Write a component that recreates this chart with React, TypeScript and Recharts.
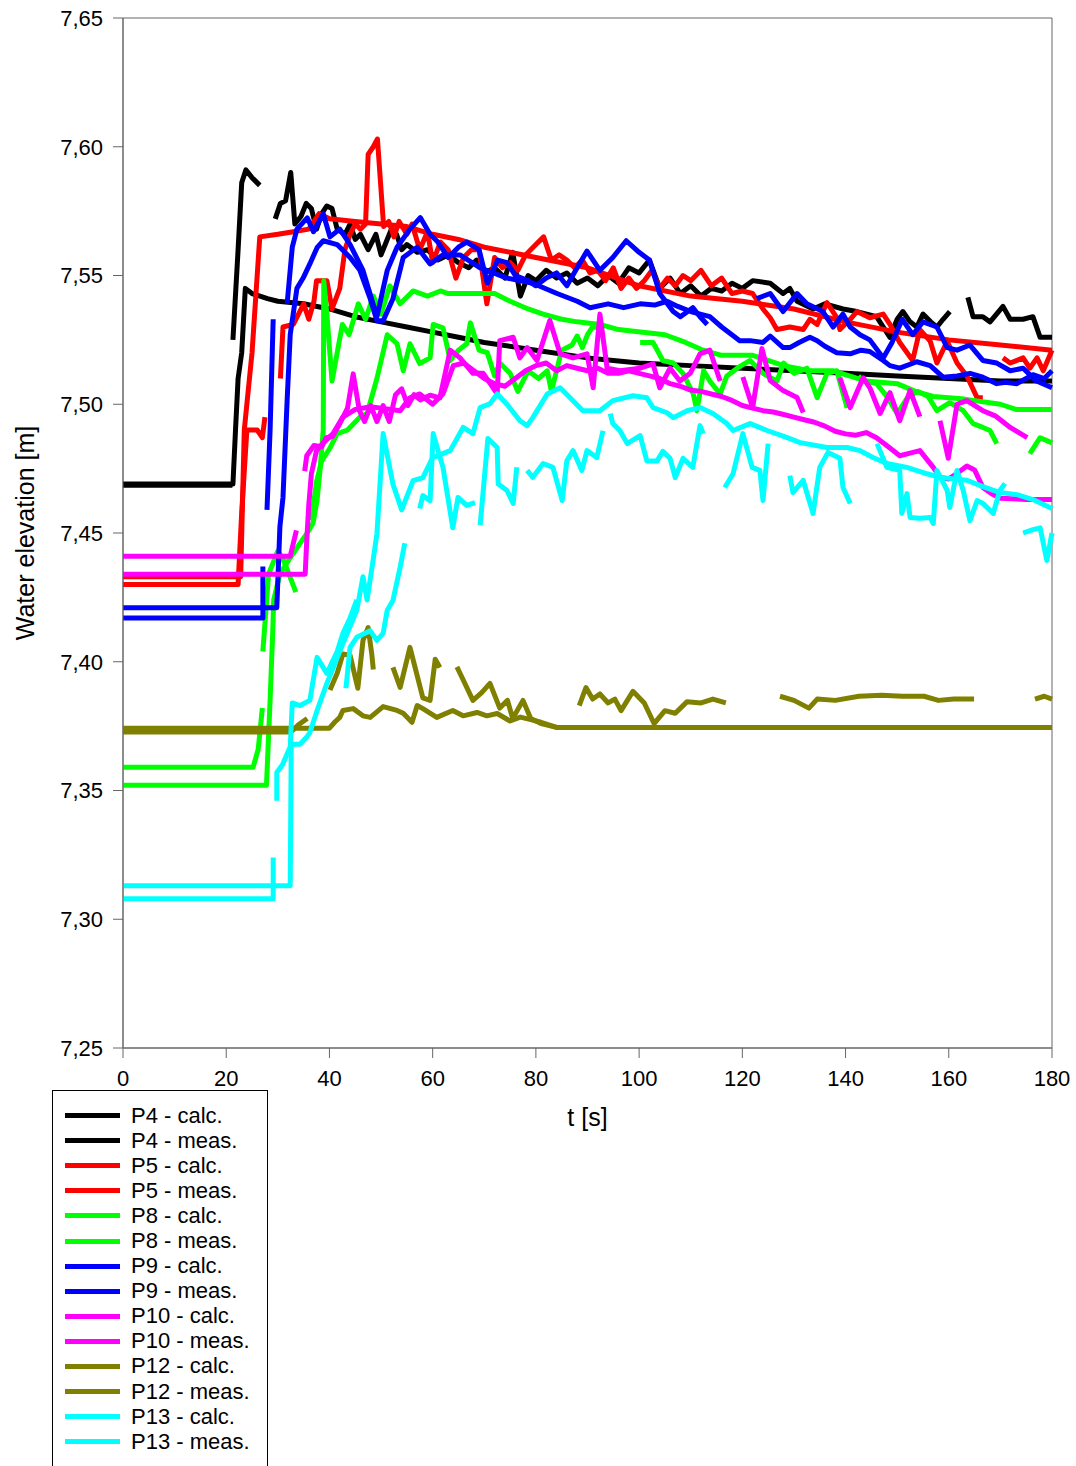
import React from "react";
import { LineChart, Line, XAxis, YAxis, Legend, ReferenceArea } from "recharts";

// each series: [t (s), water elevation (m)]; null value = gap in the record
type Pt = [number, number | null];

const xTicks = [0, 20, 40, 60, 80, 100, 120, 140, 160, 180];
const yTicks = [7.25, 7.3, 7.35, 7.4, 7.45, 7.5, 7.55, 7.6, 7.65];

const p4Calc: Pt[] = [[0,7.469],[21.3,7.469],[21.8,7.49],[22.3,7.51],[23,7.52],[23.7,7.545],[25,7.543],[28,7.541],[30,7.54],[35,7.539],[40,7.537],[45,7.534],[50,7.532],[55,7.53],[60,7.528],[65,7.526],[70,7.524],[80,7.521],[90,7.518],[100,7.516],[110,7.515],[120,7.514],[130,7.513],[140,7.512],[150,7.511],[160,7.51],[170,7.509],[180,7.509]];

const p4Meas: Pt[] = [[0,7.4685],[21.2,7.4685],[21.25,null],[21.3,7.525],[22.3,7.56],[23,7.586],[23.8,7.591],[25,7.588],[26.5,7.585],[28,null],[29.5,7.572],[30.5,7.578],[31.5,7.579],[32.5,7.59],[33.3,7.57],[34.5,7.573],[35.5,7.578],[36.5,7.576],[37.5,7.568],[38.5,7.574],[39.5,7.577],[40.5,7.576],[41.5,7.568],[43,7.566],[44,7.57],[45,7.564],[46,7.566],[47.5,7.56],[49,7.566],[50,7.558],[51,7.563],[52,7.568],[53,7.566],[54,7.56],[55,7.562],[57,7.559],[59,7.56],[61,7.556],[63,7.558],[65,7.555],[67,7.553],[68.5,7.556],[70,7.551],[72,7.553],[74,7.549],[75.5,7.559],[77,7.542],[78.5,7.55],[80,7.548],[82,7.552],[84,7.549],[86,7.551],[88,7.547],[90,7.549],[92,7.546],[94,7.55],[96,7.547],[98,7.553],[100,7.551],[102,7.556],[104,7.545],[106,7.549],[108,7.543],[110,7.546],[112,7.542],[114,7.545],[116,7.544],[118,7.547],[120,7.545],[122,7.548],[125.4,7.547],[127.9,7.543],[129.2,7.545],[130.6,7.54],[133.7,7.537],[136,7.539],[139.5,7.537],[142.2,7.536],[146,7.534],[148.6,7.526],[150,7.533],[151.1,7.536],[152.5,7.532],[153.8,7.53],[155,7.535],[156.5,7.532],[157.7,7.53],[158.9,7.533],[160.2,7.536],[162,null],[163.7,7.5415],[164.7,7.534],[166.6,7.534],[168,7.532],[170.5,7.538],[171.9,7.533],[174.4,7.533],[176.3,7.534],[177.7,7.526],[180,7.526]];

const p5Calc: Pt[] = [[0,7.433],[22.8,7.433],[23.5,7.49],[25,7.52],[26.5,7.565],[30,7.566],[33,7.567],[36,7.568],[38,7.574],[40,7.572],[45,7.571],[50,7.57],[55,7.569],[60,7.566],[65,7.564],[70,7.561],[80,7.557],[90,7.553],[100,7.546],[110,7.542],[120,7.54],[130,7.537],[140,7.532],[150,7.528],[160,7.525],[170,7.523],[180,7.521]];

const p5Meas: Pt[] = [[0,7.43],[22.3,7.43],[23,7.458],[24,7.49],[26,7.49],[27,7.487],[27.5,7.495],[28.5,null],[30.5,7.51],[31,7.53],[33,7.531],[34,7.535],[35,7.539],[36,7.533],[37,7.54],[37.5,7.548],[39.5,7.548],[40.5,7.537],[42,7.545],[43,7.56],[44,7.566],[45,7.57],[46,7.568],[47,7.57],[47.5,7.597],[48.5,7.6],[49.3,7.603],[50.5,7.569],[51.5,7.571],[52.5,7.565],[53.5,7.571],[55,7.566],[56,7.57],[57.5,7.56],[59,7.567],[60,7.555],[61.5,7.563],[63,7.56],[64.5,7.549],[66,7.557],[67.5,7.56],[69,7.56],[70.5,7.539],[72,7.557],[73.5,7.553],[75,7.555],[76.5,7.552],[78,7.558],[80,7.562],[81.5,7.565],[83,7.556],[84.5,7.558],[86,7.556],[87.5,7.553],[89,7.556],[90.5,7.551],[92,7.552],[93.5,7.548],[95,7.553],[96.5,7.545],[98,7.549],[99.5,7.545],[101,7.548],[102.5,7.552],[104,7.545],[105.5,7.549],[107,7.546],[108.5,7.55],[110,7.548],[112,7.552],[114,7.546],[116,7.549],[118,7.543],[120,7.544],[122,7.543],[124,7.537],[125.4,7.5336],[126.7,7.529],[129.2,7.53],[131.8,7.529],[133.1,7.533],[134.5,7.531],[136.4,7.5395],[138.3,7.5336],[138.9,7.529],[140.9,7.533],[142.2,7.536],[144.7,7.5336],[147.3,7.535],[148.6,7.531],[150.5,7.524],[153,7.517],[154.4,7.529],[156.4,7.5245],[157.7,7.516],[159.7,7.5245],[161.6,7.516],[163.5,7.511],[165.5,7.5025],[166.6,7.5025],[168.5,null],[170.5,7.518],[171.9,7.516],[174.4,7.518],[175.7,7.514],[177.1,7.518],[178.3,7.513],[180,7.521]];

const p8Calc: Pt[] = [[0,7.352],[27.8,7.352],[28.5,7.385],[29,7.411],[29.2,7.424],[30.4,7.434],[32.4,7.4404],[34.3,7.446],[35.7,7.45],[36.8,7.4537],[37.6,7.4626],[38.2,7.475],[38.8,7.49],[38.9,7.548],[39.5,7.535],[40.5,7.509],[42.5,7.531],[43.8,7.527],[45.6,7.539],[47,7.533],[48.5,7.542],[50,7.535],[51.7,7.546],[53.7,7.539],[56.2,7.544],[59,7.542],[61.5,7.544],[63,7.543],[65.3,7.543],[72,7.543],[75,7.54],[78.5,7.537],[81.4,7.535],[85,7.533],[88,7.532],[92.4,7.531],[96,7.529],[100.7,7.528],[105,7.527],[109,7.524],[112.4,7.521],[116,7.519],[122,7.519],[128,7.515],[133,7.513],[137.6,7.513],[144,7.509],[150,7.508],[153.5,7.505],[157,7.503],[163,7.502],[170,7.5],[173,7.498],[180,7.498]];

const p8Meas: Pt[] = [[0,7.359],[25.2,7.359],[26.2,7.366],[27,7.382],[27.05,null],[27.1,7.404],[27.8,7.423],[28.2,7.434],[30,7.443],[31,7.44],[33.5,7.427],[35,null],[36.5,7.455],[37.5,7.47],[38.5,7.478],[40.1,7.483],[41.5,7.4886],[43.5,7.49],[45.9,7.495],[47.3,7.4964],[49.2,7.51],[51.2,7.527],[53.1,7.5235],[54.3,7.513],[55.6,7.5235],[57.5,7.5158],[59.5,7.518],[60.1,7.531],[62,7.5297],[63.4,7.517],[65,7.521],[66.6,7.5235],[67.3,7.5316],[69,7.521],[70.6,7.52],[72,7.511],[73,7.516],[75,7.512],[76.5,7.505],[78.5,7.513],[80.5,7.51],[82.2,7.513],[83,7.505],[85,7.521],[87,7.523],[88,7.5265],[89,7.522],[90,7.527],[91,7.53],[92.4,7.5298],[96,null],[100.2,7.524],[102.7,7.524],[104.6,7.517],[106.6,7.516],[108.5,7.512],[110.5,7.504],[111.2,7.4975],[112.5,7.513],[113.7,7.509],[115.7,7.504],[117,7.511],[119,7.514],[121.5,7.517],[124,7.512],[126.7,7.509],[128,7.516],[130,7.512],[132.5,7.514],[134.5,7.5026],[136.4,7.512],[138.3,7.513],[140.3,7.4986],[141.5,null],[142.5,7.511],[143.4,7.509],[146,7.508],[148,7.503],[150,7.4964],[152,7.5026],[154,7.505],[156,7.503],[157.7,7.4975],[160.2,7.5006],[162.8,7.4975],[164.7,7.4925],[166.6,7.491],[168,7.4898],[169.3,7.4847],[172,null],[175.7,7.4808],[177.7,7.487],[180,7.485]];

const p9Calc: Pt[] = [[0,7.421],[29.5,7.421],[29.8,7.421],[30.4,7.4524],[31,7.4638],[31.8,7.5014],[32.4,7.527],[33.7,7.545],[34.9,7.549],[36.2,7.5545],[37.6,7.5608],[38.8,7.5635],[41.5,7.562],[44,7.557],[45.9,7.552],[47.9,7.541],[49.2,7.5324],[50.4,7.5324],[52.3,7.541],[54.3,7.557],[57,7.561],[59.5,7.5545],[62,7.558],[65.3,7.558],[69.2,7.553],[74.4,7.549],[79.4,7.547],[84.1,7.543],[88,7.54],[90.5,7.5375],[94,7.539],[97,7.5375],[100.2,7.539],[103,7.5385],[105.4,7.54],[107.5,7.538],[110,7.536],[113.7,7.534],[116,7.53],[119.5,7.5247],[121.5,7.5247],[124,7.524],[125.4,7.5265],[127.9,7.522],[129.2,7.522],[131,7.524],[133.1,7.526],[134.5,7.5247],[136,7.5225],[138.3,7.52],[140.9,7.5196],[143,7.521],[144.7,7.5205],[147.3,7.517],[148.6,7.515],[150.5,7.514],[153.8,7.5165],[156.4,7.515],[158.9,7.5105],[161.6,7.511],[164.1,7.512],[166.6,7.5105],[169.3,7.508],[171,7.5085],[173.2,7.508],[176.3,7.5115],[178.5,7.51],[180,7.513]];

const p9Meas: Pt[] = [[0,7.417],[27.1,7.417],[27.1,7.437],[27.5,null],[27.9,7.459],[28.5,7.49],[29.1,7.533],[30,null],[31.8,7.539],[32.8,7.561],[33.7,7.568],[35.7,7.5724],[36.9,7.567],[38.8,7.574],[40.1,7.565],[42,7.568],[44,7.562],[46.5,7.552],[49.2,7.534],[51.2,7.552],[53.1,7.561],[55.6,7.568],[57.6,7.5725],[59.5,7.566],[61,7.563],[63,7.557],[65,7.561],[66.6,7.563],[69,7.56],[70.6,7.547],[72.6,7.556],[74.4,7.555],[76,7.55],[78.5,7.548],[80,7.546],[82,7.549],[84,7.551],[86,7.546],[88,7.553],[89.9,7.5595],[92.4,7.552],[94.9,7.557],[97.5,7.5635],[100,7.559],[102,7.556],[104,7.543],[106.6,7.536],[108,7.534],[110.4,7.5375],[111.8,7.534],[113.2,7.531],[118,null],[122.8,7.541],[125.4,7.543],[127.9,7.536],[130.6,7.543],[132.5,7.539],[135.6,7.536],[137.6,7.53],[139.5,7.535],[140.9,7.53],[142.8,7.527],[144.7,7.525],[147.3,7.518],[149,7.524],[151,7.533],[153,7.527],[155,7.532],[157.7,7.53],[159.7,7.522],[161.6,7.521],[164.1,7.523],[166.6,7.517],[169.3,7.516],[171.9,7.513],[174.4,7.514],[177,7.509],[180,7.5064]];

const p10Calc: Pt[] = [[0,7.434],[35.3,7.434],[35.6,7.447],[36,7.461],[36.5,7.473],[37.5,7.482],[38.8,7.485],[40.7,7.4886],[42.6,7.495],[45,7.498],[48,7.499],[50,7.4985],[53.7,7.4975],[55.6,7.5025],[57.5,7.504],[60,7.5],[62,7.504],[64,7.515],[66,7.516],[68,7.513],[70,7.51],[72,7.508],[74,7.507],[76,7.51],[78,7.513],[80,7.515],[82,7.516],[84,7.513],[86,7.515],[88,7.514],[90,7.513],[92,7.514],[94,7.512],[96,7.512],[98,7.513],[100,7.512],[102,7.511],[104,7.51],[106,7.508],[108,7.507],[110,7.5055],[112,7.505],[114,7.504],[116,7.503],[118,7.5015],[120,7.4995],[122,7.4985],[124,7.4975],[126,7.497],[128,7.496],[130,7.495],[132,7.494],[134,7.493],[136,7.4915],[138,7.4895],[140,7.4885],[142,7.488],[144,7.489],[146,7.487],[148.6,7.483],[150.5,7.48],[152.5,7.481],[154.4,7.482],[157,7.4755],[158.3,7.4716],[160,7.471],[161.5,7.473],[163.5,7.476],[165,7.4745],[166.6,7.4677],[168.5,7.465],[170,7.4635],[175,7.463],[180,7.463]];

const p10Meas: Pt[] = [[0,7.441],[32.4,7.441],[33,7.446],[33.6,7.451],[34.5,null],[35.2,7.474],[35.6,7.48],[37,7.484],[38.5,7.4835],[39.4,7.487],[40.6,7.4875],[41.8,7.4917],[43.5,7.4985],[44.6,7.5118],[45.8,7.4975],[46.8,7.4933],[48,7.4995],[49.2,7.4933],[50.4,7.4995],[51.6,7.4933],[52.8,7.5037],[54,7.506],[55.2,7.4995],[56.4,7.5037],[57.6,7.5017],[59.5,7.5035],[61.4,7.5025],[63.4,7.521],[65.3,7.518],[67.8,7.512],[69.8,7.512],[72.5,7.504],[73,7.5247],[75.6,7.526],[76.9,7.518],[78.3,7.522],[80.2,7.517],[82.7,7.5325],[84.7,7.5196],[87.2,7.518],[89.9,7.5196],[91.1,7.5064],[92.4,7.535],[93.8,7.514],[96.3,7.513],[100.2,7.514],[102.7,7.5157],[104,7.5064],[106,7.514],[107.9,7.509],[109.9,7.512],[111.8,7.5196],[113.7,7.521],[115.7,7.509],[118,null],[120.1,7.5106],[122,7.4987],[123.8,7.5216],[125.4,7.5092],[127.9,7.5053],[130.6,7.5026],[131.8,7.4968],[135,null],[138.9,7.5103],[140.9,7.4987],[143.4,7.5103],[144.7,7.5064],[146.7,7.4964],[148.6,7.5045],[150.5,7.4936],[152.5,7.5053],[154.4,7.4952],[156,null],[158.3,7.4936],[159.9,7.479],[161.6,7.5],[163.5,7.5014],[166.6,7.4975],[169,7.4955],[171.9,7.491],[175.2,7.487]];

const p12Calc: Pt[] = [[0,7.3742],[40,7.3742],[41,7.3765],[42,7.3784],[42.6,7.3811],[44.6,7.3818],[46.5,7.379],[47.9,7.3784],[50.4,7.3826],[53.1,7.3811],[54.3,7.38],[56,7.3765],[57,7.383],[58.1,7.3818],[60.8,7.3784],[63.9,7.3811],[65.9,7.379],[68.6,7.3803],[70.5,7.379],[72.5,7.3799],[75,7.377],[77,7.3785],[79,7.3775],[81,7.3765],[84,7.3745],[180,7.3745]];

const p12Meas: Pt[] = [[0,7.3727],[32.5,7.3727],[34,7.3755],[35.7,7.378],[37,null],[40.1,7.389],[41.5,7.3955],[42.6,7.403],[44,7.4025],[45.5,7.3897],[46.5,7.4083],[47.5,7.4133],[48.2,7.403],[48.5,7.397],[50,null],[52.3,7.3978],[53.7,7.39],[55.6,7.4056],[58.1,7.386],[59.5,7.385],[60.5,7.401],[61.4,7.3978],[63,null],[64.7,7.398],[65.9,7.393],[67.8,7.385],[69.5,7.388],[71.1,7.3916],[73,7.382],[74.5,7.385],[75.5,7.378],[77.5,7.385],[79,7.378],[81,7.376],[84,7.3745],[86,null],[88.4,7.383],[89.7,7.39],[91,7.3855],[92.4,7.3875],[94,7.384],[95.3,7.3855],[96.5,7.381],[98.8,7.3885],[101,7.384],[102.9,7.376],[105,7.381],[107,7.38],[109.3,7.3845],[112,7.384],[114.3,7.3855],[116.8,7.384],[120,null],[127.3,7.3866],[130,7.385],[132.9,7.382],[134.5,7.3855],[138,7.385],[142.6,7.3866],[147,7.387],[151,7.3866],[155.2,7.3866],[158,7.385],[161,7.3855],[164.9,7.3855],[170,null],[176.7,7.3855],[178.5,7.3866],[180,7.3855]];

const p13Calc: Pt[] = [[0,7.313],[32.4,7.313],[32.6,7.368],[34.3,7.368],[35.7,7.371],[36.2,7.3725],[37.6,7.381],[39.5,7.3916],[42.6,7.407],[45.3,7.42],[46.5,7.433],[47.3,7.424],[48.5,7.44],[49.2,7.4497],[50.4,7.4886],[52.3,7.469],[54,7.459],[56.2,7.4703],[58.1,7.4715],[60,7.4793],[63.4,7.482],[65.9,7.491],[67.8,7.4886],[69.2,7.4987],[71.1,7.5002],[72.5,7.504],[74.4,7.5],[76.9,7.4936],[78.3,7.4917],[79.4,7.4948],[82.2,7.504],[84.7,7.5064],[87.2,7.5014],[89.1,7.4975],[92.4,7.4975],[94.9,7.5014],[98.8,7.5033],[101.5,7.5025],[102.7,7.4987],[105.4,7.4967],[106.6,7.4948],[109.3,7.4975],[111.8,7.4987],[114.3,7.4964],[117,7.4925],[118.2,7.4898],[121.5,7.4925],[124.8,7.4898],[128.7,7.487],[131.2,7.4851],[136.4,7.4832],[140.3,7.4832],[142.8,7.482],[145.3,7.4793],[148,7.477],[151.9,7.4755],[155.8,7.473],[158.3,7.4716],[163.5,7.4705],[166.6,7.468],[169.9,7.4657],[173.2,7.4649],[176.3,7.463],[180,7.4595]];

const p13Meas: Pt[] = [[0,7.308],[29.1,7.308],[29.1,7.324],[29.5,null],[29.8,7.346],[29.8,7.357],[30.9,7.36],[32.4,7.367],[32.8,7.384],[34.3,7.383],[36.2,7.385],[37.6,7.4017],[39.5,7.3955],[41.5,7.404],[42.6,7.411],[44,7.417],[45.3,7.424],[45.5,null],[43.2,7.3897],[44,7.4056],[45.3,7.4095],[47.9,7.412],[49.2,7.4083],[50.4,7.411],[51.2,7.42],[52.3,7.4238],[53.7,7.4367],[54.6,7.446],[56,null],[57.5,7.4595],[58.1,7.4645],[59.5,7.4626],[60.1,7.4886],[62,7.4755],[63.9,7.452],[64.9,7.4638],[66.6,7.4607],[68.2,7.4618],[68.7,null],[69.2,7.453],[70.7,7.4867],[72.5,7.4832],[72.7,7.469],[74.4,7.4665],[75.6,7.4615],[76.3,7.4755],[77,null],[78.3,7.4743],[79.4,7.4716],[81.4,7.477],[83.3,7.4755],[85.1,7.4626],[86,7.478],[87.2,7.482],[88.9,7.4743],[89.9,7.482],[91.8,7.4793],[93,7.4897],[93.7,null],[94.4,7.4964],[94.9,7.4925],[96.3,7.4897],[97.7,7.4847],[100.2,7.4878],[101.5,7.478],[103.5,7.478],[104.6,7.4817],[106,7.479],[107,7.4715],[108.5,7.479],[110.4,7.4755],[111.8,7.4917],[112.4,7.4886],[114,null],[116.6,7.4677],[118.2,7.473],[120.1,7.4886],[121.9,7.4755],[123.4,7.4743],[124,7.4626],[125,7.4847],[127,null],[129.2,7.4723],[129.8,7.4657],[131.8,7.4704],[133.7,7.4576],[135,7.4755],[136.6,7.4813],[138.9,7.479],[139.5,7.4677],[140.9,7.4615],[143,null],[146.1,7.4847],[148,7.4755],[150.5,7.4743],[150.9,7.4576],[151.9,7.4653],[152.5,7.456],[154.4,7.4557],[156.4,7.456],[157,7.4537],[157.7,7.4743],[159.7,7.4665],[160.2,7.4599],[161.6,7.4743],[162.8,7.4665],[164.1,7.4548],[165.5,7.4626],[166.6,7.4615],[168.6,7.4576],[169.9,7.4665],[170.9,7.4692],[172,null],[174.4,7.45],[176.3,7.4513],[177.7,7.452],[179,7.4393],[180,7.45]];

const series = [
  { name: "P4 - calc.", color: "#000000", pts: p4Calc },
  { name: "P4 - meas.", color: "#000000", pts: p4Meas },
  { name: "P5 - calc.", color: "#FF0000", pts: p5Calc },
  { name: "P5 - meas.", color: "#FF0000", pts: p5Meas },
  { name: "P8 - calc.", color: "#00FF00", pts: p8Calc },
  { name: "P8 - meas.", color: "#00FF00", pts: p8Meas },
  { name: "P9 - calc.", color: "#0000FF", pts: p9Calc },
  { name: "P9 - meas.", color: "#0000FF", pts: p9Meas },
  { name: "P10 - calc.", color: "#FF00FF", pts: p10Calc },
  { name: "P10 - meas.", color: "#FF00FF", pts: p10Meas },
  { name: "P12 - calc.", color: "#808000", pts: p12Calc },
  { name: "P12 - meas.", color: "#808000", pts: p12Meas },
  { name: "P13 - calc.", color: "#00FFFF", pts: p13Calc },
  { name: "P13 - meas.", color: "#00FFFF", pts: p13Meas },
];

const FONT = '"Liberation Sans", Arial, sans-serif';
const AXIS = "#666666";

const toRows = (pts: Pt[]) => pts.map(([t, v]) => ({ t, v }));

// comma as decimal separator, like the original
const fmtY = (v: number) => v.toFixed(2).replace(".", ",");

function LegendBox() {
  return (
    <div
      style={{
        border: "1px solid #000",
        background: "#fff",
        width: 216,
        height: 400,
        paddingTop: 12,
        boxSizing: "border-box",
        fontFamily: FONT,
        fontSize: 22,
      }}
    >
      {series.map((s) => (
        <div key={s.name} style={{ display: "flex", alignItems: "center", height: 25.1 }}>
          <div style={{ marginLeft: 12, width: 55, height: 5, background: s.color }} />
          <span style={{ marginLeft: 11, color: "#000", whiteSpace: "nowrap" }}>{s.name}</span>
        </div>
      ))}
    </div>
  );
}

export default function App() {
  return (
    <div style={{ position: "relative", width: 1076, height: 1466 }}>
      <style>{"body{margin:0;overflow:hidden}"}</style>
      <LineChart width={1076} height={1466} margin={{ top: 18, right: 24, bottom: 0, left: 8 }}>
        <ReferenceArea x1={0} x2={180} y1={7.25} y2={7.65} fill="none" stroke={AXIS} strokeWidth={1} />
        <XAxis
          dataKey="t"
          type="number"
          domain={[0, 180]}
          ticks={xTicks}
          interval={0}
          height={418}
          tickSize={10}
          tickMargin={12}
          stroke={AXIS}
          tick={{ fill: "#000", fontSize: 22, fontFamily: FONT }}
          label={({ viewBox }: any) => (
            <text
              x={viewBox.x + viewBox.width / 2}
              y={viewBox.y + 78}
              textAnchor="middle"
              fontSize={25}
              fontFamily={FONT}
              fill="#000"
            >
              t [s]
            </text>
          )}
        />
        <YAxis
          type="number"
          domain={[7.25, 7.65]}
          ticks={yTicks}
          interval={0}
          width={115}
          tickSize={10}
          tickMargin={10}
          stroke={AXIS}
          tickFormatter={fmtY}
          tick={{ fill: "#000", fontSize: 22, fontFamily: FONT }}
          label={({ viewBox }: any) => {
            const cx = 25;
            const cy = viewBox.y + viewBox.height / 2;
            return (
              <text
                x={cx}
                y={cy}
                transform={`rotate(-90 ${cx} ${cy})`}
                textAnchor="middle"
                dominantBaseline="central"
                fontSize={25}
                fontFamily={FONT}
                fill="#000"
              >
                Water elevation [m]
              </text>
            );
          }}
        />
        {series.map((s) => (
          <Line
            key={s.name}
            name={s.name}
            data={toRows(s.pts)}
            dataKey="v"
            stroke={s.color}
            strokeWidth={5}
            strokeLinejoin="round"
            dot={false}
            activeDot={false}
            connectNulls={false}
            isAnimationActive={false}
          />
        ))}
        <Legend
          layout="vertical"
          align="center"
          verticalAlign="middle"
          wrapperStyle={{ left: 52, top: 1090, width: 216, height: 400 }}
          content={() => <LegendBox />}
        />
      </LineChart>
    </div>
  );
}
